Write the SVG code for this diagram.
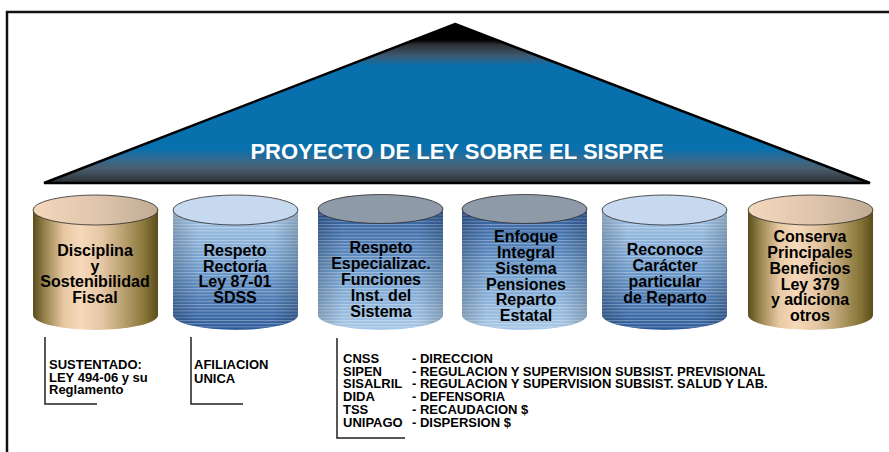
<svg xmlns="http://www.w3.org/2000/svg" width="889" height="452" viewBox="0 0 889 452">
<style>
text{font-family:"Liberation Sans",Arial,sans-serif;font-weight:bold;fill:#000}
.cyl{font-size:16px;text-anchor:middle}
.note{font-size:13px}
.title{font-size:22px;fill:#fff;text-anchor:middle}
.br{fill:none;stroke:#222;stroke-width:1.5}
.rim{stroke:#2a2a2a;stroke-width:0.8}
</style>
<defs>
<linearGradient id="triG" gradientUnits="userSpaceOnUse" x1="0" y1="24" x2="0" y2="184">
<stop offset="0" stop-color="#000"/>
<stop offset="0.1" stop-color="#000"/>
<stop offset="0.13" stop-color="#2e3236"/>
<stop offset="0.2" stop-color="#3d5a72"/>
<stop offset="0.26" stop-color="#0870ad"/>
<stop offset="0.78" stop-color="#0870ad"/>
<stop offset="0.84" stop-color="#2f6a92"/>
<stop offset="0.9" stop-color="#4a5f70"/>
<stop offset="1" stop-color="#2a2d30"/>
</linearGradient>
<linearGradient id="tanBody" x1="0" y1="0" x2="1" y2="0">
<stop offset="0" stop-color="#5a4c1c"/>
<stop offset="0.1" stop-color="#9a8650"/>
<stop offset="0.25" stop-color="#e8c9a4"/>
<stop offset="0.38" stop-color="#f6d9bb"/>
<stop offset="0.55" stop-color="#e6c7a5"/>
<stop offset="0.75" stop-color="#b29a68"/>
<stop offset="0.9" stop-color="#857436"/>
<stop offset="1" stop-color="#5a4c1c"/>
</linearGradient>
<linearGradient id="tanTop" x1="0" y1="0" x2="1" y2="0">
<stop offset="0" stop-color="#f4d8bc"/>
<stop offset="0.5" stop-color="#e0c6ad"/>
<stop offset="1" stop-color="#c0ab95"/>
</linearGradient>
<linearGradient id="blueDown" x1="0" y1="0" x2="0" y2="1">
<stop offset="0" stop-color="#a8c8e6"/>
<stop offset="0.5" stop-color="#6d9acb"/>
<stop offset="1" stop-color="#2a5898"/>
</linearGradient>
<linearGradient id="blueUp" x1="0" y1="0" x2="0" y2="1">
<stop offset="0" stop-color="#2a5898"/>
<stop offset="0.5" stop-color="#6d9acb"/>
<stop offset="1" stop-color="#a8c8e6"/>
</linearGradient>
<linearGradient id="edge" x1="0" y1="0" x2="1" y2="0">
<stop offset="0" stop-color="#000" stop-opacity="0.18"/>
<stop offset="0.2" stop-color="#000" stop-opacity="0"/>
<stop offset="0.8" stop-color="#000" stop-opacity="0"/>
<stop offset="1" stop-color="#000" stop-opacity="0.18"/>
</linearGradient>
<pattern id="stripes" patternUnits="userSpaceOnUse" width="10" height="3.2">
<rect x="0" y="0" width="10" height="1" fill="#fff" fill-opacity="0.35"/>
</pattern>
<path id="body" d="M0,210 V315 A62.5,15 0 0 0 125,315 V210 Z"/>
</defs>

<rect width="889" height="452" fill="#fff"/>

<g id="frame">
<path d="M7,452 V12 H889" fill="none" stroke="#111" stroke-width="2.5"/>
</g>

<g id="roof">
<path d="M455,24 L870,183 L44,183 Z" fill="url(#triG)" stroke="#000" stroke-width="2.5" stroke-linejoin="miter"/>
<text class="title" x="457" y="159">PROYECTO DE LEY SOBRE EL SISPRE</text>
</g>

<g id="cyl1" transform="translate(33,0)">
<use href="#body" fill="url(#tanBody)"/>
<ellipse cx="62.5" cy="210" rx="62.5" ry="15" fill="url(#tanTop)" class="rim"/>
<text class="cyl" x="62" y="256">Disciplina</text>
<text class="cyl" x="62" y="271.5">y</text>
<text class="cyl" x="62" y="287">Sostenibilidad</text>
<text class="cyl" x="62" y="303">Fiscal</text>
</g>

<g id="cyl2" transform="translate(173,0)">
<use href="#body" fill="url(#blueDown)"/>
<use href="#body" fill="url(#stripes)"/>
<use href="#body" fill="url(#edge)"/>
<ellipse cx="62.5" cy="210" rx="62.5" ry="15" fill="#c7d9ee" class="rim"/>
<text class="cyl" x="62" y="256">Respeto</text>
<text class="cyl" x="62" y="271.5">Rectoría</text>
<text class="cyl" x="62" y="287">Ley 87-01</text>
<text class="cyl" x="62" y="303">SDSS</text>
</g>

<g id="cyl3" transform="translate(318,0)">
<use href="#body" fill="url(#blueUp)"/>
<use href="#body" fill="url(#stripes)"/>
<use href="#body" fill="url(#edge)"/>
<ellipse cx="62.5" cy="209" rx="62.5" ry="14.5" fill="#8e9aa8" class="rim"/>
<text class="cyl" x="63" y="253">Respeto</text>
<text class="cyl" x="63" y="269">Especializac.</text>
<text class="cyl" x="63" y="285">Funciones</text>
<text class="cyl" x="63" y="301">Inst. del</text>
<text class="cyl" x="63" y="317">Sistema</text>
</g>

<g id="cyl4" transform="translate(462,0)">
<use href="#body" fill="url(#blueUp)"/>
<use href="#body" fill="url(#stripes)"/>
<use href="#body" fill="url(#edge)"/>
<ellipse cx="62.5" cy="209" rx="62.5" ry="14.5" fill="#8e9aa8" class="rim"/>
<text class="cyl" x="64" y="242">Enfoque</text>
<text class="cyl" x="64" y="258">Integral</text>
<text class="cyl" x="64" y="273.5">Sistema</text>
<text class="cyl" x="64" y="289.5">Pensiones</text>
<text class="cyl" x="64" y="305">Reparto</text>
<text class="cyl" x="64" y="321">Estatal</text>
</g>

<g id="cyl5" transform="translate(602,0)">
<use href="#body" fill="url(#blueDown)"/>
<use href="#body" fill="url(#stripes)"/>
<use href="#body" fill="url(#edge)"/>
<ellipse cx="62.5" cy="210" rx="62.5" ry="15" fill="#c7d9ee" class="rim"/>
<text class="cyl" x="63" y="255">Reconoce</text>
<text class="cyl" x="63" y="271">Carácter</text>
<text class="cyl" x="63" y="287">particular</text>
<text class="cyl" x="63" y="302.5">de Reparto</text>
</g>

<g id="cyl6" transform="translate(748,0)">
<use href="#body" fill="url(#tanBody)"/>
<ellipse cx="62.5" cy="210" rx="62.5" ry="15" fill="url(#tanTop)" class="rim"/>
<text class="cyl" x="62" y="242">Conserva</text>
<text class="cyl" x="62" y="258">Principales</text>
<text class="cyl" x="62" y="273.5">Beneficios</text>
<text class="cyl" x="62" y="289.5">Ley 379</text>
<text class="cyl" x="62" y="305">y adiciona</text>
<text class="cyl" x="62" y="320.5">otros</text>
</g>

<g id="connectors">
<path class="br" d="M45,337 V404 H97"/>
<path class="br" d="M191,337 V404 H243"/>
<path class="br" d="M337,338 V438 H405"/>
</g>

<g id="note1">
<text class="note" x="49" y="369">SUSTENTADO:</text>
<text class="note" x="49" y="381.7">LEY 494-06 y su</text>
<text class="note" x="49" y="394">Reglamento</text>
</g>

<g id="note2">
<text class="note" x="194" y="369">AFILIACION</text>
<text class="note" x="194" y="382.5">UNICA</text>
</g>

<g id="note3">
<text class="note" x="343" y="363">CNSS</text>
<text class="note" x="343" y="375.7">SIPEN</text>
<text class="note" x="343" y="388.4">SISALRIL</text>
<text class="note" x="343" y="401.1">DIDA</text>
<text class="note" x="343" y="413.8">TSS</text>
<text class="note" x="343" y="426.5">UNIPAGO</text>
<text class="note" x="412" y="363">- DIRECCION</text>
<text class="note" x="412" y="375.7">- REGULACION Y SUPERVISION SUBSIST. PREVISIONAL</text>
<text class="note" x="412" y="388.4">- REGULACION Y SUPERVISION SUBSIST. SALUD Y LAB.</text>
<text class="note" x="412" y="401.1">- DEFENSORIA</text>
<text class="note" x="412" y="413.8">- RECAUDACION $</text>
<text class="note" x="412" y="426.5">- DISPERSION $</text>
</g>
</svg>
